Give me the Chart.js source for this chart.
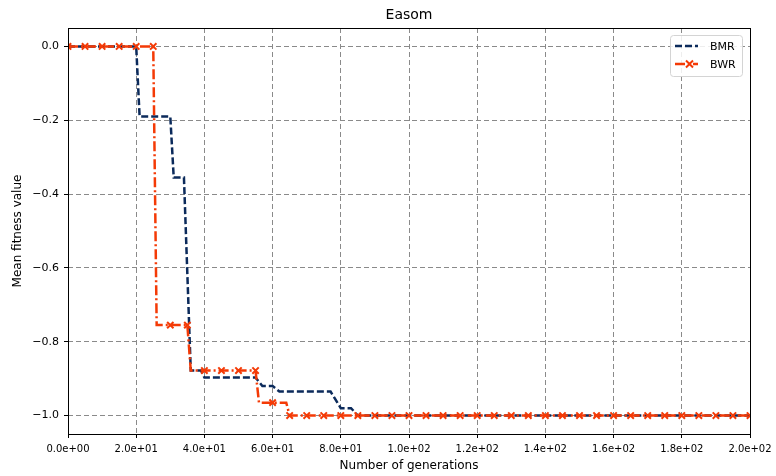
<!DOCTYPE html>
<html>
<head>
<meta charset="utf-8">
<script src="https://cdn.jsdelivr.net/npm/chart.js@4/dist/chart.umd.min.js"></script>
<style>
  html, body { margin: 0; padding: 0; background: #ffffff; }
  #wrap { width: 776px; height: 476px; position: relative; }
</style>
</head>
<body>
<div id="wrap"><canvas id="c" width="776" height="476"></canvas></div>
<script>
// ---- data ----
const chartTitle = 'Easom';
const xLabel = 'Number of generations';
const yLabel = 'Mean fitness value';
const seriesNames = ['BMR', 'BWR'];

// BMR: generations at which the curve changes, and values
const bmrGen = [0, 20, 21, 30, 31, 34, 36, 39, 40, 55, 57, 60, 62, 77, 80, 83, 85, 200];
const bmrVal = [0, 0, -0.19, -0.19, -0.355, -0.355, -0.878, -0.878, -0.897, -0.897, -0.92, -0.92, -0.935, -0.935, -0.98, -0.98, -1.0, -1.0];

// BWR: marker generations (every 5) plus step points
const bwrGen = [0, 5, 10, 15, 20, 25, 26, 30, 35, 36, 40, 45, 50, 55, 56, 60, 64, 65,
  70, 75, 80, 85, 90, 95, 100, 105, 110, 115, 120, 125, 130, 135, 140, 145, 150,
  155, 160, 165, 170, 175, 180, 185, 190, 195, 200];
const bwrVal = [0, 0, 0, 0, 0, 0, -0.755, -0.755, -0.755, -0.878, -0.878, -0.878, -0.878, -0.878, -0.965, -0.965, -0.965, -1.0,
  -1.0, -1.0, -1.0, -1.0, -1.0, -1.0, -1.0, -1.0, -1.0, -1.0, -1.0, -1.0, -1.0, -1.0, -1.0, -1.0, -1.0,
  -1.0, -1.0, -1.0, -1.0, -1.0, -1.0, -1.0, -1.0, -1.0, -1.0];

const yTicks = [0, -0.2, -0.4, -0.6, -0.8, -1.0];
const xTickStep = 20;

// ---- styles ----
const FONT = 'DejaVu Sans';
const bmrColor = '#0b2a5b';
const bwrColor = '#f43a06';

function sci(v) {
  if (v === 0) return '0.0e+00';
  const e = Math.floor(Math.log10(Math.abs(v)) + 1e-9);
  const m = v / Math.pow(10, e);
  return m.toFixed(1) + 'e' + (e < 0 ? '-' : '+') + String(Math.abs(e)).padStart(2, '0');
}
function yfmt(v) {
  const a = Math.abs(v).toFixed(1);
  return (v < -1e-9 ? '\u2212' : '') + a;
}

const decor = {
  id: 'decor',
  afterDatasetsDraw(chart) {
    const ctx = chart.ctx;
    const a = chart.chartArea;
    ctx.save();
    // axes box
    ctx.strokeStyle = '#000';
    ctx.lineWidth = 1;
    ctx.setLineDash([]);
    ctx.strokeRect(Math.round(a.left) + 0.5, Math.round(a.top) + 0.5,
      Math.round(a.right - a.left), Math.round(a.bottom - a.top));
    // title
    ctx.fillStyle = '#000';
    ctx.font = '14px "' + FONT + '"';
    ctx.textAlign = 'center';
    ctx.textBaseline = 'middle';
    ctx.fillText(chartTitle, (a.left + a.right) / 2, 15);
    // legend
    const bx = a.right - 80, by = a.top + 7, bw = 72, bh = 41;
    ctx.beginPath();
    if (ctx.roundRect) ctx.roundRect(bx + 0.5, by + 0.5, bw, bh, 3); else ctx.rect(bx + 0.5, by + 0.5, bw, bh);
    ctx.fillStyle = 'rgba(255,255,255,0.85)';
    ctx.fill();
    ctx.strokeStyle = '#d4d4d4';
    ctx.stroke();
    const rows = [by + 11, by + 29];
    const lx0 = bx + 5, lx1 = bx + 28;
    // BMR sample
    ctx.strokeStyle = bmrColor; ctx.lineWidth = 2.5; ctx.setLineDash([7, 3]);
    ctx.beginPath(); ctx.moveTo(lx0, rows[0]); ctx.lineTo(lx1, rows[0]); ctx.stroke();
    // BWR sample
    ctx.strokeStyle = bwrColor; ctx.setLineDash([10, 3, 2, 3]);
    ctx.beginPath(); ctx.moveTo(lx0, rows[1]); ctx.lineTo(lx1, rows[1]); ctx.stroke();
    ctx.setLineDash([]); ctx.lineWidth = 2;
    const mx = (lx0 + lx1) / 2 + 3, my = rows[1], r = 3.5;
    ctx.beginPath();
    ctx.moveTo(mx - r, my - r); ctx.lineTo(mx + r, my + r);
    ctx.moveTo(mx - r, my + r); ctx.lineTo(mx + r, my - r);
    ctx.stroke();
    ctx.fillStyle = '#000';
    ctx.font = '11px "' + FONT + '"';
    ctx.textAlign = 'left';
    ctx.fillText(seriesNames[0], bx + 40, rows[0] + 1);
    ctx.fillText(seriesNames[1], bx + 40, rows[1] + 1);
    ctx.restore();
  }
};

const gridOpts = {
  color: '#8a8a8a',
  lineWidth: 1,
  borderDash: [5, 3],
  tickColor: '#000',
  tickLength: 4,
  tickBorderDash: [],
  tickWidth: 1
};
const borderOpts = { display: false, dash: [5, 3] };

new Chart(document.getElementById('c'), {
  type: 'line',
  data: {
    datasets: [
      {
        label: seriesNames[0],
        data: bmrGen.map((g, i) => ({ x: g, y: bmrVal[i] })),
        borderColor: bmrColor,
        borderWidth: 2.5,
        borderDash: [7, 3],
        pointRadius: 0,
        fill: false,
        tension: 0,
        order: 2
      },
      {
        label: seriesNames[1],
        data: bwrGen.map((g, i) => ({ x: g, y: bwrVal[i] })),
        borderColor: bwrColor,
        borderWidth: 2.5,
        borderDash: [10, 3, 2, 3],
        pointStyle: 'crossRot',
        pointRadius: c => (c.raw && c.raw.x % 5 === 0 ? 4.5 : 0),
        pointBorderColor: bwrColor,
        pointBackgroundColor: bwrColor,
        pointBorderWidth: 2,
        fill: false,
        tension: 0,
        order: 1
      }
    ]
  },
  options: {
    responsive: false,
    animation: false,
    devicePixelRatio: 1,
    layout: { padding: { top: 28, right: 26, left: 0, bottom: 0 } },
    plugins: {
      legend: { display: false },
      title: { display: false },
      tooltip: { enabled: false }
    },
    scales: {
      x: {
        type: 'linear',
        min: 0,
        max: 200,
        afterFit: s => { s.height = 42; s.paddingRight = 0; s.paddingLeft = 0; },
        ticks: {
          stepSize: xTickStep,
          callback: v => sci(v),
          font: { family: FONT, size: 10 },
          color: '#000',
          padding: 5,
          maxRotation: 0,
          autoSkip: false
        },
        grid: gridOpts,
        border: borderOpts,
        title: {
          display: true,
          text: xLabel,
          font: { family: FONT, size: 12 },
          color: '#000',
          padding: { top: 3, bottom: 3 }
        }
      },
      y: {
        type: 'linear',
        min: -1.05,
        max: 0.05,
        afterFit: s => { s.width = 68; },
        afterBuildTicks: s => { s.ticks = yTicks.map(v => ({ value: v })); },
        ticks: {
          callback: v => yfmt(v),
          font: { family: FONT, size: 11 },
          color: '#000',
          padding: 5
        },
        grid: gridOpts,
        border: borderOpts,
        title: {
          display: true,
          text: yLabel,
          font: { family: FONT, size: 12 },
          color: '#000',
          padding: { top: 11, bottom: 11 }
        }
      }
    }
  },
  plugins: [decor]
});
</script>
</body>
</html>
